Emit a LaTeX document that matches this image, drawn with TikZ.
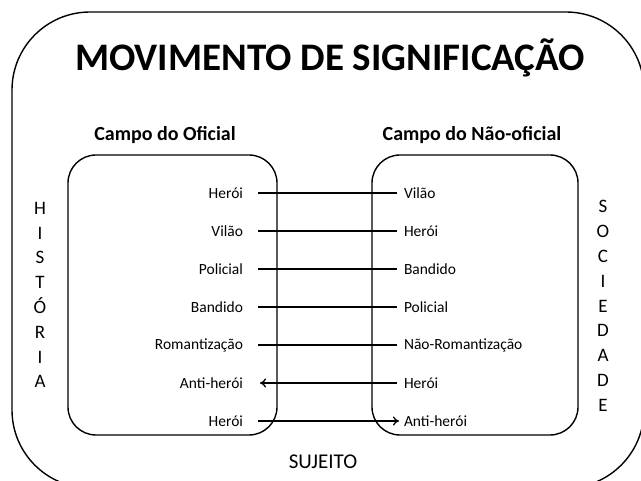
\documentclass[tikz,border=0pt]{standalone}
\usepackage{fontspec}
\setmainfont{Carlito}
\usetikzlibrary{arrows.meta}
\begin{document}
\begin{tikzpicture}[x=1pt,y=-1pt,
  frame/.style={draw, line width=1.4pt, rounded corners=#1, inner sep=0pt, outer sep=0pt},
  lab/.style={font=\fontsize{15.5}{17}\selectfont, inner sep=0pt, outer sep=0pt},
  llab/.style={lab, anchor=east},
  rlab/.style={lab, anchor=west},
  conn/.style={line width=1.3pt},
  tip/.style={-{To[length=6pt,width=9pt]}},
  side/.style={font=\fontsize{19}{24.8}\selectfont, align=center, inner sep=0pt},
  head/.style={font=\bfseries\fontsize{20}{22}\selectfont, inner sep=0pt}]
\useasboundingbox (0,0) rectangle (641,481);
\node[frame=78pt, minimum width=632pt, minimum height=476pt] (outer) at (328,250) {};
\node[frame=28pt, minimum width=209pt, minimum height=280pt] (lbox) at (172.5,295) {};
\node[frame=28pt, minimum width=206pt, minimum height=280pt] (rbox) at (475,295) {};
\node[font=\bfseries\fontsize{39}{40}\selectfont, inner sep=0pt] (title) at (330,58) {MOVIMENTO DE SIGNIFICAÇÃO};
\node[head] (hl) at (165,135) {Campo do Oficial};
\node[head] (hr) at (472,135) {Campo do Não-oficial};
\node[side] (hist) at (40,295) {H\\I\\S\\T\\Ó\\R\\I\\A};
\node[side] (soc) at (603,306) {S\\O\\C\\I\\E\\D\\A\\D\\E};
\node[font=\fontsize{21}{22}\selectfont, inner sep=0pt] (suj) at (323,462) {SUJEITO};
% left labels
\foreach \t [count=\i] in {Herói,Vilão,Policial,Bandido,Romantização,Anti-herói,Herói}
  \node[llab] (L\i) at (243,{193+38*(\i-1)}) {\t};
\foreach \t [count=\i] in {Vilão,Herói,Bandido,Policial,Não-Romantização,Herói,Anti-herói}
  \node[rlab] (R\i) at (404,{193+38*(\i-1)}) {\t};
% connectors
\foreach \i in {1,...,5}
  \draw[conn] ([xshift=15pt]L\i.east) -- ([xshift=-7pt]R\i.west);
\draw[conn,tip] ([xshift=-7pt]R6.west) -- ([xshift=17pt]L6.east);
\draw[conn,tip] ([xshift=15pt]L7.east) -- ([xshift=-5pt]R7.west);
\end{tikzpicture}
\end{document}
